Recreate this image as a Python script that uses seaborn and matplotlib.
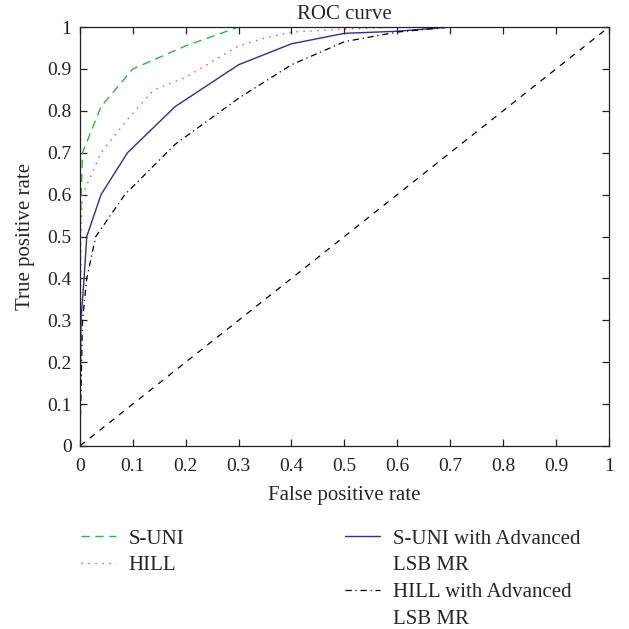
import matplotlib
matplotlib.use("Agg")
import matplotlib.pyplot as plt
import seaborn as sns
import pandas as pd

# ROC points
suni_fpr = [0, 0.0, 0.005, 0.04, 0.1, 0.2, 0.3, 0.5, 1.0]
suni_tpr = [0, 0.5, 0.70, 0.81, 0.90, 0.955, 1.0, 1.0, 1.0]

hill_fpr = [0, 0.002, 0.005, 0.04, 0.09, 0.14, 0.2, 0.3, 0.35, 0.4, 0.5, 0.6, 1.0]
hill_tpr = [0, 0.5, 0.60, 0.70, 0.78, 0.85, 0.88, 0.955, 0.974, 0.988, 0.995, 1.0, 1.0]

suni_adv_fpr = [0, 0.002, 0.008, 0.013, 0.04, 0.09, 0.18, 0.3, 0.4, 0.5, 0.6, 0.7, 1.0]
suni_adv_tpr = [0, 0.30, 0.40, 0.50, 0.60, 0.70, 0.81, 0.91, 0.96, 0.985, 0.99, 1.0, 1.0]

hill_adv_fpr = [0, 0.005, 0.013, 0.03, 0.085, 0.18, 0.3, 0.4, 0.5, 0.6, 0.7, 1.0]
hill_adv_tpr = [0, 0.30, 0.40, 0.50, 0.60, 0.72, 0.83, 0.91, 0.965, 0.988, 1.0, 1.0]

chance = [0, 1]

ticks = [0, 0.1, 0.2, 0.3, 0.4, 0.5, 0.6, 0.7, 0.8, 0.9, 1]
tick_labels = ["0", "0.1", "0.2", "0.3", "0.4", "0.5", "0.6", "0.7", "0.8", "0.9", "1"]

sns.set_style("ticks")
plt.rcParams["font.family"] = ["Liberation Serif", "DejaVu Serif"]
plt.rcParams["font.size"] = 14

fig = plt.figure(figsize=(6.29, 6.29), dpi=100)
ax = fig.add_axes([0.127, 0.291, 0.841, 0.666])

def draw(x, y, **kw):
    df = pd.DataFrame({"x": x, "y": y})
    sns.lineplot(data=df, x="x", y="y", sort=False, estimator=None, ax=ax, **kw)
    return ax.lines[-1]

l1 = draw(suni_fpr, suni_tpr, color="#33b449", lw=1.0)
l1.set_dashes([6, 4])
l2 = draw(hill_fpr, hill_tpr, color="#f24e3a", lw=1.0)
l2.set_dashes([1, 4])
l3 = draw(suni_adv_fpr, suni_adv_tpr, color="#2e2f8e", lw=1.0)
l4 = draw(hill_adv_fpr, hill_adv_tpr, color="black", lw=0.9)
l4.set_dashes([5, 3, 1, 3])
l5 = draw(chance, chance, color="black", lw=0.9)
l5.set_dashes([5, 5])

ax.set_xlim(0, 1)
ax.set_ylim(0, 1)
ax.set_xticks(ticks)
ax.set_xticklabels(tick_labels)
ax.set_yticks(ticks)
ax.set_yticklabels(tick_labels)
ax.tick_params(direction="in", length=5, width=0.9, top=True, right=True,
               labelsize=14, colors="#222222")
ax.tick_params(axis="x", pad=8.5)
ax.tick_params(axis="y", pad=6)
for s in ax.spines.values():
    s.set_visible(True)
    s.set_linewidth(0.9)
    s.set_color("#222222")

ax.set_title("ROC curve", fontsize=15, pad=6)
ax.set_xlabel("False positive rate", fontsize=15, labelpad=8)
ax.set_ylabel("True positive rate", fontsize=15, labelpad=9)

# two legend blocks; the second wraps its labels onto a second row
blank = plt.Line2D([], [], color="none")
leg_kw = dict(loc="upper left", frameon=False, fontsize=15, handlelength=1.68,
              handletextpad=0.62, labelspacing=0.34, borderaxespad=0)
fig.legend([l1, l2], ["S-UNI", "HILL"],
           bbox_to_anchor=(0.115, 0.172), **leg_kw)
fig.legend([l3, blank, l4, blank],
           ["S-UNI with Advanced", "LSB MR", "HILL with Advanced", "LSB MR"],
           bbox_to_anchor=(0.535, 0.172), **leg_kw)

fig.savefig("out.png", dpi=100)
plt.close(fig)
